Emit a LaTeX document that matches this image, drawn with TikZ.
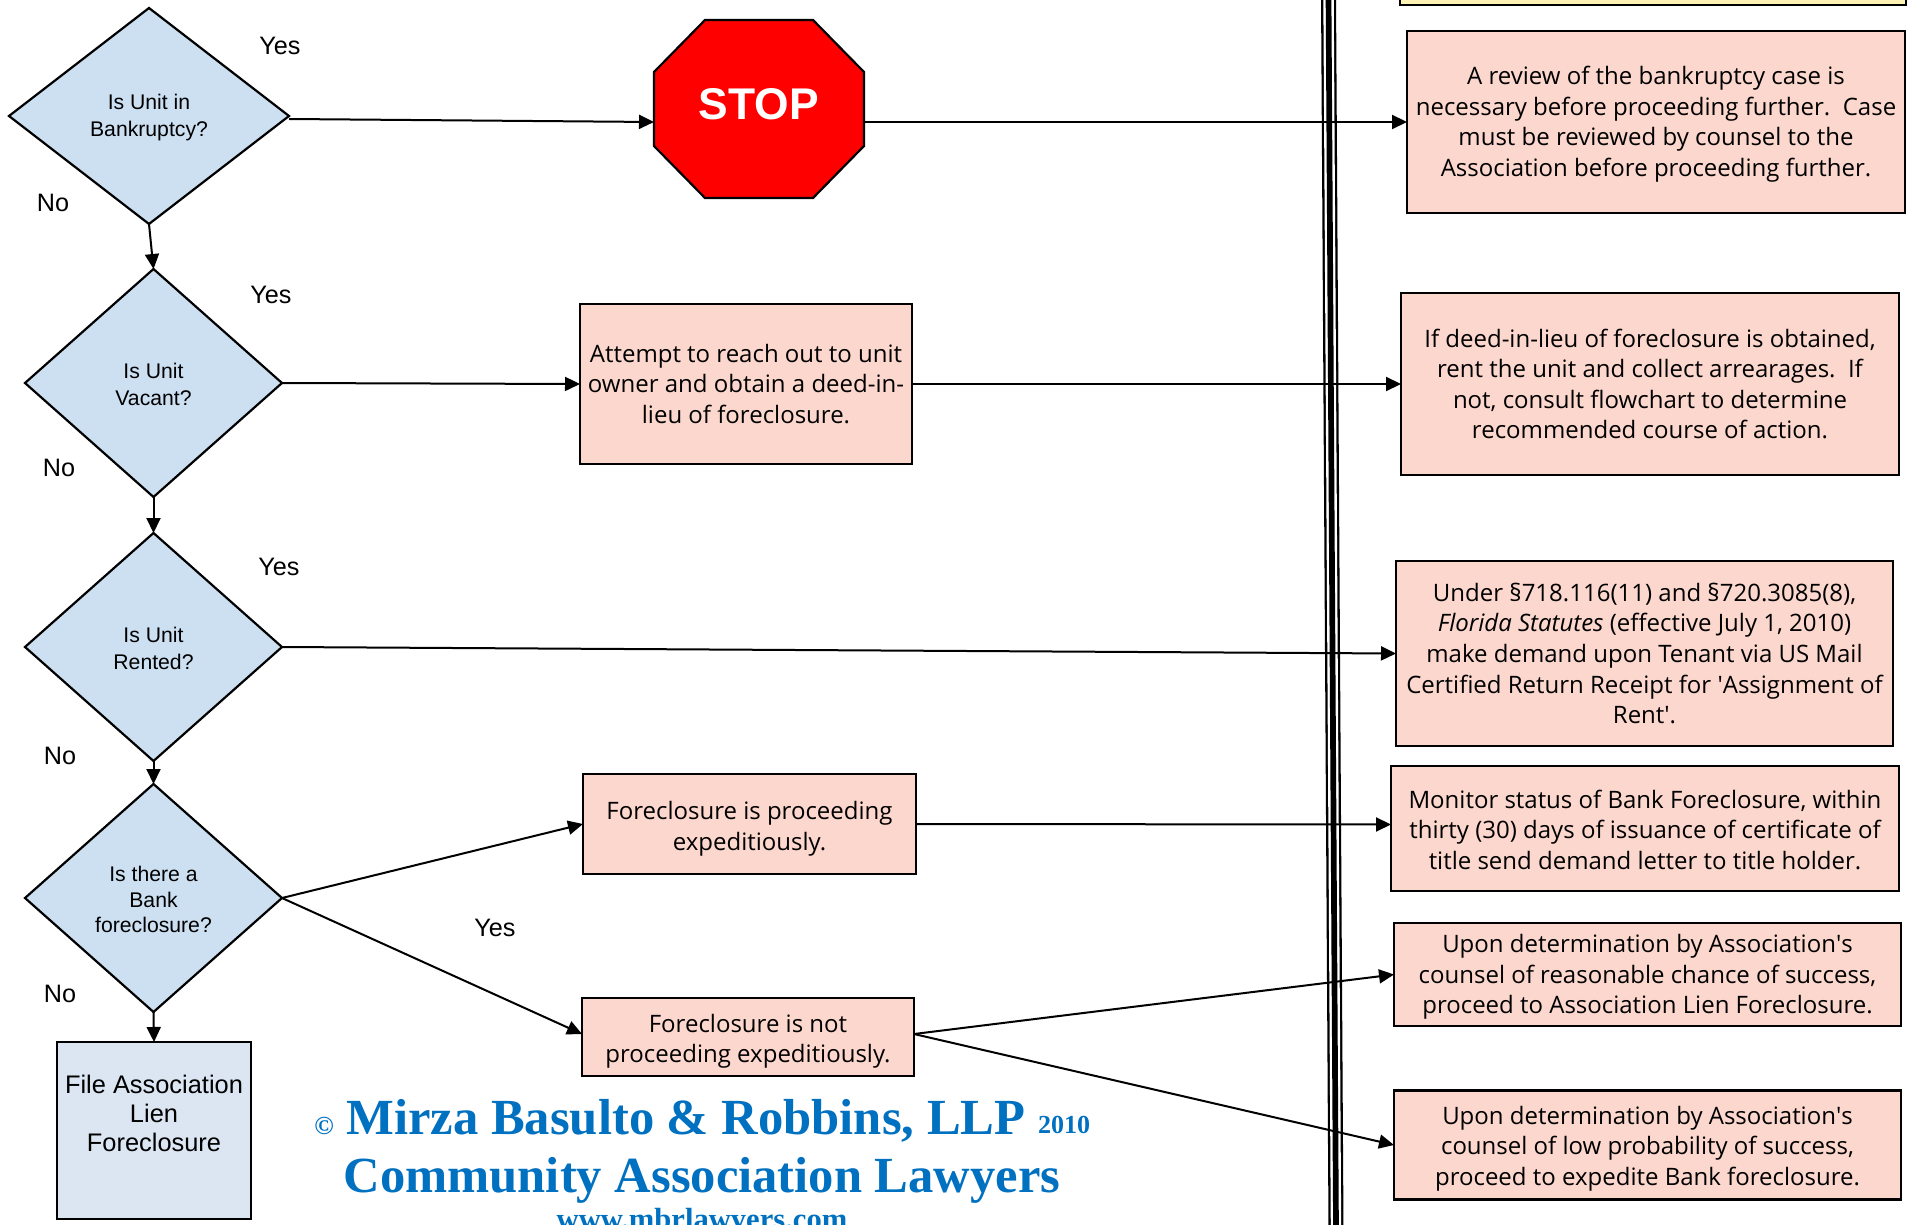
\documentclass[tikz,border=0pt]{standalone}
\usepackage{fontspec}
\usepackage{xcolor}
\setmainfont{Open Sans}
\newfontfamily\arialfont{Liberation Sans}
\newfontfamily\timesfont{Liberation Serif}
\usetikzlibrary{arrows.meta,shapes.geometric}
\definecolor{pinkfill}{HTML}{FCD7CD}
\definecolor{bluefill}{HTML}{CDE0F2}
\definecolor{palefill}{HTML}{DCE6F2}
\definecolor{yellowfill}{HTML}{FFF2B5}
\definecolor{firmblue}{HTML}{0070C0}
\newcommand{\firstline}[1]{\rule{0pt}{#1}}
\tikzset{
  decision/.style={diamond,draw=black,line width=1.1pt,fill=bluefill,inner sep=0pt,outer sep=0pt,align=center,
    font=\arialfont\fontsize{10.6}{13.6}\selectfont},
  pinkbox/.style={rectangle,draw=black,line width=1.25pt,fill=pinkfill,inner sep=0pt,outer sep=0pt,align=center,
    font=\fontsize{12}{15.3}\selectfont},
  answer/.style={font=\arialfont\fontsize{12.6}{15}\selectfont,inner sep=0pt},
  firm/.style={text=firmblue,inner sep=0pt,font=\timesfont\bfseries\fontsize{25.3}{28}\selectfont},
  flow/.style={->,line width=1pt}
}
\begin{document}
\begin{tikzpicture}[x=0.5pt,y=-0.5pt,>={Triangle[length=7.5pt,width=7pt]}]
\clip (0,0) rectangle (1910,1225);
\node[rectangle,draw=black,line width=1.25pt,fill=yellowfill,minimum width=253pt,minimum height=60pt,inner sep=0pt] (topnote) at (1653,-55){};
% left column
\node[decision,minimum width=140pt,minimum height=108pt] (dbank) at (149,116){\firstline{9.5pt}Is Unit in\\Bankruptcy?};
\node[decision,minimum width=128.5pt,minimum height=114pt] (dvacant) at (153.5,383){\firstline{9.2pt}Is Unit\\Vacant?};
\node[decision,minimum width=128.5pt,minimum height=114pt] (drented) at (153.5,647){\firstline{9.2pt}Is Unit\\Rented?};
\node[decision,minimum width=128.5pt,minimum height=114pt] (dbankfc) at (153.5,898){\firstline{9.2pt}Is there a\\[-0.8pt]Bank\\[-0.8pt]foreclosure?};
\node[rectangle,draw=black,line width=1.25pt,fill=palefill,inner sep=0pt,outer sep=0pt,align=center,minimum width=97pt,minimum height=88.5pt,
  font=\arialfont\fontsize{12.7}{14.5}\selectfont] (file) at (154,1130.5){File Association\\Lien\\Foreclosure\\[2.4pt]~};
% middle column
\node[rectangle,inner sep=0pt,outer sep=0pt,minimum width=105pt,minimum height=89pt] (stop) at (759,109){};
\draw[line width=1.1pt,fill=red] ([xshift=25.5pt]stop.north west) -- ([xshift=-25.5pt]stop.north east) -- ([yshift=-26pt]stop.north east)
  -- ([yshift=26pt]stop.south east) -- ([xshift=-25.5pt]stop.south east) -- ([xshift=25.5pt]stop.south west)
  -- ([yshift=26pt]stop.south west) -- ([yshift=-26pt]stop.north west) -- cycle;
\node[text=white,inner sep=0pt,font=\arialfont\bfseries\fontsize{22.2}{24}\selectfont] (stoplabel) at (759,104){STOP};
\node[pinkbox,minimum width=166pt,minimum height=80pt] (attempt) at (746,384){Attempt to reach out to unit\\owner and obtain a deed-in-\\lieu of foreclosure.};
\node[pinkbox,minimum width=166.5pt,minimum height=50pt] (fcyes) at (749.5,824){\firstline{14pt}Foreclosure is proceeding\\expeditiously.};
\node[pinkbox,minimum width=166pt,minimum height=39pt] (fcno) at (748,1037){\firstline{13.4pt}Foreclosure is not\\proceeding expeditiously.};
% right column
\node[pinkbox,minimum width=249pt,minimum height=91pt] (rreview) at (1656,122){\firstline{11.5pt}A review of the bankruptcy case is\\necessary before proceeding further.\ \ Case\\must be reviewed by counsel to the\\Association before proceeding further.};
\node[pinkbox,minimum width=249pt,minimum height=91pt] (rdeed) at (1650,384){If deed-in-lieu of foreclosure is obtained,\\rent the unit and collect arrearages.\ \ If\\not, consult flowchart to determine\\recommended course of action.};
\node[pinkbox,minimum width=248.5pt,minimum height=92.5pt] (rrent) at (1644.5,653.5){Under §718.116(11) and §720.3085(8),\\\textit{Florida Statutes} (effective July 1, 2010)\\make demand upon Tenant via US Mail\\Certified Return Receipt for \textquotesingle Assignment of\\Rent\textquotesingle.};
\node[pinkbox,minimum width=254pt,minimum height=62.5pt] (rmonitor) at (1645,828.5){\firstline{10.3pt}Monitor status of Bank Foreclosure, within\\thirty (30) days of issuance of certificate of\\title send demand letter to title holder.};
\node[pinkbox,minimum width=253.5pt,minimum height=51.5pt] (rlien) at (1647.5,974.5){\firstline{11.5pt}Upon determination by Association\textquotesingle s\\counsel of reasonable chance of success,\\proceed to Association Lien Foreclosure.};
\node[pinkbox,minimum width=253.5pt,minimum height=54.5pt] (rlow) at (1647.5,1145){\firstline{12.8pt}Upon determination by Association\textquotesingle s\\counsel of low probability of success,\\proceed to expedite Bank foreclosure.};
% divider
\coordinate (divtop) at (1328.5,-5);
\coordinate (divbot) at (1336,1230);
\draw[line width=7.5pt] (divtop) -- (divbot);
\draw[line width=5.2pt,white] (divtop) -- (divbot);
\draw[line width=2.85pt] (divtop) -- (divbot);
% yes and no
\node[answer] (y1) at (280,46){Yes};
\node[answer] (n1) at (53,203){No};
\node[answer] (y2) at (271,295){Yes};
\node[answer] (n2) at (59,468){No};
\node[answer] (y3) at (279,567){Yes};
\node[answer] (n3) at (60,756){No};
\node[answer] (y4) at (495,928){Yes};
\node[answer] (n4) at (60,994){No};
% connectors
\draw[flow] ([yshift=-1.5pt]dbank.east) to ([yshift=-6.5pt]stop.west);
\draw[flow] ([yshift=-6.5pt]stop.east) to (rreview.west);
\draw[flow] (dbank.south) to (dvacant.north);
\draw[flow] (dvacant.east) to (attempt.west);
\draw[flow] (attempt.east) to (rdeed.west);
\draw[flow] (dvacant.south) to (drented.north);
\draw[flow] (drented.east) to (rrent.west);
\draw[flow] (drented.south) to (dbankfc.north);
\draw[flow] (dbankfc.east) to (fcyes.west);
\draw[flow] (fcyes.east) to ([yshift=2pt]rmonitor.west);
\draw[flow] (dbankfc.east) to ([yshift=1.5pt]fcno.west);
\draw[flow] ([yshift=1.5pt]fcno.east) to (rlien.west);
\draw[flow] ([yshift=1.5pt]fcno.east) to (rlow.west);
\draw[flow] (dbankfc.south) to (file.north);
% firm name
\node[firm] (firmname) at (686,1121){Mirza Basulto \& Robbins, LLP};
\node[firm,font=\timesfont\bfseries\fontsize{13}{15}\selectfont] (copymark) at (324,1126){©};
\node[firm,font=\timesfont\bfseries\fontsize{13}{15}\selectfont] (firmyear) at (1064,1125){2010};
\node[firm] (firmtag) at (702,1180){Community Association Lawyers};
\node[firm,font=\timesfont\bfseries\fontsize{15.3}{17}\selectfont] (firmweb) at (702,1222){www.mbrlawyers.com};
\end{tikzpicture}
\end{document}
